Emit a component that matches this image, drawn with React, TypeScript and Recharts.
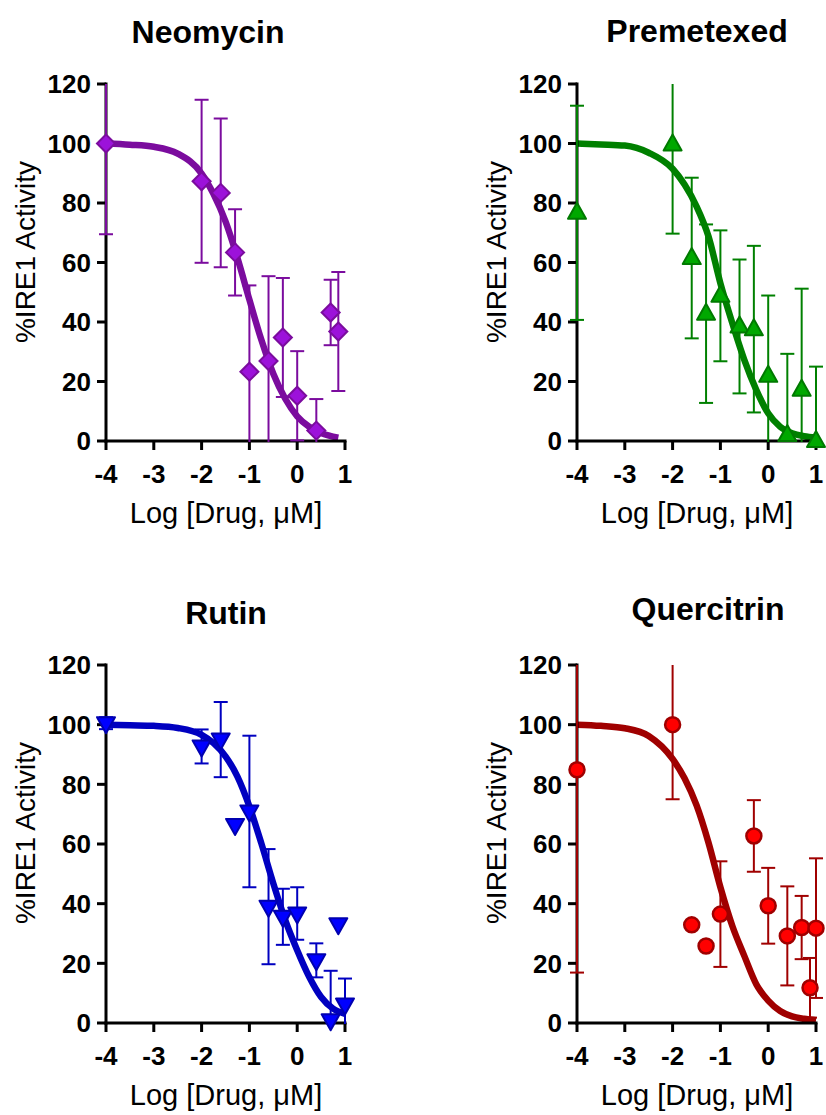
import React from 'react';
import { ComposedChart, ErrorBar, Line, Scatter, XAxis, YAxis } from 'recharts';

const xTicks = [-4, -3, -2, -1, 0, 1];
const yTicks = [0, 20, 40, 60, 80, 100, 120];

// Neomycin
const neoX = [-4, -2, -1.6, -1.3, -1, -0.6, -0.3, 0, 0.4, 0.7, 0.86];
const neoY = [100, 87.3, 83.4, 63.4, 23.3, 26.9, 34.8, 15.2, 3.5, 43.2, 36.8];
const neoErr = [30.5, 27.4, 25, 14.5, 29, 28.5, 20, 15, 10.6, 11, 20];
const neoFitX = [-4, -3.5, -3, -2.5, -2, -1.75, -1.5, -1.25, -1, -0.75, -0.5, -0.25, 0, 0.25, 0.5, 0.86];
const neoFitY = [100, 99.6, 98.9, 96.6, 89.9, 83, 73.8, 61.5, 47.5, 34, 22.6, 14.2, 8.3, 4.8, 2.7, 1.1];

// Premetexed
const premX = [-4, -2, -1.6, -1.3, -1, -0.6, -0.3, 0, 0.4, 0.7, 1];
const premY = [76.7, 99.7, 61.5, 42.8, 48.8, 38.5, 37.6, 21.9, 2, 17.2, 0];
const premErr = [36, 30, 27, 30, 22, 22.5, 28, 27, 27.3, 34, 25];
const premFitX = [-4, -3.5, -3, -2.5, -2, -1.75, -1.5, -1.25, -1, -0.75, -0.5, -0.25, 0, 0.25, 0.5, 0.75, 1];
const premFitY = [100, 99.7, 99.3, 96.9, 91.5, 86.2, 78.9, 68.8, 53, 39.6, 27.3, 17.2, 9.3, 4.8, 2.6, 1.6, 1.1];

// Rutin
const rutX = [-4, -2, -1.6, -1.3, -1, -0.6, -0.3, 0, 0.4, 0.7, 0.86, 1];
const rutY = [100.5, 92.7, 95, 66.4, 70.9, 39, 35.6, 36.7, 21, 0.9, 33.1, 6.2];
const rutErr = [2, 5.7, 12.6, 0, 25.4, 19.3, 9.4, 8.8, 5.7, 16.6, 0, 8.7];
const rutFitX = [-4, -3.5, -3, -2.5, -2, -1.75, -1.5, -1.25, -1, -0.75, -0.5, -0.25, 0, 0.25, 0.5, 0.75, 1];
const rutFitY = [100, 99.8, 99.6, 98.9, 96.6, 93.8, 89.4, 82.6, 72.6, 60.2, 46.8, 34.5, 24.4, 15.5, 8.7, 4.8, 3.1];

// Quercitrin
const querX = [-4, -2, -1.6, -1.3, -1, -0.3, 0, 0.4, 0.7, 0.875, 1];
const querY = [84.9, 100, 32.9, 25.8, 36.5, 62.7, 39.3, 29.2, 32, 11.8, 31.8];
const querErr = [68, 25, 0, 0, 17.7, 12, 12.7, 16.6, 10.6, 10, 23.4];
const querFitX = [-4, -3.5, -3, -2.5, -2, -1.75, -1.5, -1.25, -1, -0.75, -0.5, -0.25, 0, 0.25, 0.5, 0.75, 1];
const querFitY = [100, 99.6, 98.8, 96.2, 88.5, 82, 73, 60.5, 45.5, 32.5, 22.5, 13, 7.5, 4, 2.2, 1.4, 0.9];

const FONT = '"Liberation Sans", Arial, sans-serif';

const pts = (xs: number[], ys: number[], es: number[]) => xs.map((x, i) => ({ x, y: ys[i], err: es[i] }));
const fit = (xs: number[], ys: number[]) => xs.map((x, i) => ({ x, y: ys[i] }));

const axisLine = { stroke: '#000', strokeWidth: 3, strokeLinecap: 'square' as const };
const tickLine = { stroke: '#000', strokeWidth: 3 };
const tickFont = { fill: '#000', fontSize: 26, fontWeight: 700, fontFamily: FONT };

const diamond = (fill: string, edge: string) => (p: any) => (
  <polygon
    points={`${p.cx},${p.cy - 9} ${p.cx + 9},${p.cy} ${p.cx},${p.cy + 9} ${p.cx - 9},${p.cy}`}
    fill={fill}
    stroke={edge}
    strokeWidth={2}
  />
);
const triUp = (fill: string, edge: string) => (p: any) => (
  <polygon
    points={`${p.cx},${p.cy - 10} ${p.cx + 9},${p.cy + 6} ${p.cx - 9},${p.cy + 6}`}
    fill={fill}
    stroke={edge}
    strokeWidth={2}
    strokeLinejoin="round"
  />
);
const triDown = (fill: string, edge: string) => (p: any) => (
  <polygon
    points={`${p.cx - 9},${p.cy - 6} ${p.cx + 9},${p.cy - 6} ${p.cx},${p.cy + 10}`}
    fill={fill}
    stroke={edge}
    strokeWidth={2}
    strokeLinejoin="round"
  />
);
const circle = (fill: string, edge: string) => (p: any) => (
  <circle cx={p.cx} cy={p.cy} r={7.5} fill={fill} stroke={edge} strokeWidth={2.5} />
);

function Panel({ left, top, height, margin, color, mark, data, curve }: any) {
  const errData = data.filter((d: any) => d.err > 0);
  const box: React.CSSProperties = { position: 'absolute', left: 0, top: 0 };
  // error bars are cut at 0 and 120 like the original (only vertically)
  const clip = `inset(${margin.top}px 0px ${margin.bottom + 60 - 1}px 0px)`;
  return (
    <div style={{ position: 'absolute', left, top, width: 413, height }}>
      {/* axes and fitted curve */}
      <div style={box}>
        <ComposedChart width={413} height={height} margin={margin}>
          <XAxis
            type="number"
            dataKey="x"
            domain={[-4, 1]}
            ticks={xTicks}
            interval={0}
            height={60}
            axisLine={axisLine}
            tickLine={tickLine}
            tickSize={9}
            tickMargin={15}
            tick={tickFont}
          />
          <YAxis
            type="number"
            dataKey="y"
            domain={[0, 120]}
            ticks={yTicks}
            interval={0}
            width={70}
            axisLine={axisLine}
            tickLine={tickLine}
            tickSize={9}
            tickMargin={6}
            tick={tickFont}
          />
          <Line data={curve} dataKey="y" type="monotone" stroke={color} strokeWidth={6.5} dot={false} isAnimationActive={false} />
        </ComposedChart>
      </div>
      {/* error bars */}
      <div style={{ ...box, clipPath: clip }}>
        <ComposedChart width={413} height={height} margin={margin}>
          <XAxis type="number" dataKey="x" domain={[-4, 1]} allowDataOverflow height={60} axisLine={false} tickLine={false} tick={false} />
          <YAxis type="number" dataKey="y" domain={[0, 120]} allowDataOverflow width={70} axisLine={false} tickLine={false} tick={false} />
          <Scatter data={errData} shape={() => <g />} isAnimationActive={false}>
            <ErrorBar dataKey="err" direction="y" width={7} stroke={color} strokeWidth={2} isAnimationActive={false} />
          </Scatter>
        </ComposedChart>
      </div>
      {/* markers */}
      <div style={box}>
        <ComposedChart width={413} height={height} margin={margin}>
          <XAxis type="number" dataKey="x" domain={[-4, 1]} height={60} axisLine={false} tickLine={false} tick={false} />
          <YAxis type="number" dataKey="y" domain={[0, 120]} width={70} axisLine={false} tickLine={false} tick={false} />
          <Scatter data={data} shape={mark} isAnimationActive={false} />
        </ComposedChart>
      </div>
    </div>
  );
}

const titles = [
  { t: 'Neomycin', x: 208, y: 43 },
  { t: 'Premetexed', x: 697, y: 42 },
  { t: 'Rutin', x: 226, y: 624 },
  { t: 'Quercitrin', x: 708, y: 620 },
];
const xTitles = [
  { x: 226, y: 523 },
  { x: 697, y: 523 },
  { x: 226, y: 1105 },
  { x: 697, y: 1105 },
];
const yTitles = [
  { x: 35, y: 252 },
  { x: 506, y: 252 },
  { x: 35, y: 833 },
  { x: 506, y: 833 },
];

export default function App() {
  const topM = { top: 84, bottom: 56 };
  const botM = { top: 108, bottom: 32 };
  return (
    <div style={{ position: 'absolute', left: 0, top: 0, width: 826, height: 1115, background: '#fff', overflow: 'hidden' }}>
      <Panel
        left={0}
        top={0}
        height={557}
        margin={{ ...topM, left: 36, right: 68 }}
        color="#7B0C9E"
        mark={diamond('#9C12DA', '#7B0C9E')}
        data={pts(neoX, neoY, neoErr)}
        curve={fit(neoFitX, neoFitY)}
      />
      <Panel
        left={413}
        top={0}
        height={557}
        margin={{ ...topM, left: 94, right: 10 }}
        color="#008000"
        mark={triUp('#00A800', '#007A00')}
        data={pts(premX, premY, premErr)}
        curve={fit(premFitX, premFitY)}
      />
      <Panel
        left={0}
        top={557}
        height={558}
        margin={{ ...botM, left: 36, right: 68 }}
        color="#0000C0"
        mark={triDown('#0000FF', '#0000B0')}
        data={pts(rutX, rutY, rutErr)}
        curve={fit(rutFitX, rutFitY)}
      />
      <Panel
        left={413}
        top={557}
        height={558}
        margin={{ ...botM, left: 94, right: 10 }}
        color="#A00000"
        mark={circle('#FF0000', '#A00000')}
        data={pts(querX, querY, querErr)}
        curve={fit(querFitX, querFitY)}
      />
      <svg width={826} height={1115} style={{ position: 'absolute', left: 0, top: 0, pointerEvents: 'none' }}>
        {titles.map((d) => (
          <text key={d.t} x={d.x} y={d.y} textAnchor="middle" fontFamily={FONT} fontWeight={700} fontSize={32} fill="#000">
            {d.t}
          </text>
        ))}
        {xTitles.map((d, i) => (
          <text key={i} x={d.x} y={d.y} textAnchor="middle" fontFamily={FONT} fontSize={29} fill="#000">
            Log [Drug, μM]
          </text>
        ))}
        {yTitles.map((d, i) => (
          <text
            key={i}
            transform={`translate(${d.x},${d.y}) rotate(-90)`}
            textAnchor="middle"
            fontFamily={FONT}
            fontSize={28}
            fill="#000"
          >
            %IRE1 Activity
          </text>
        ))}
      </svg>
    </div>
  );
}
